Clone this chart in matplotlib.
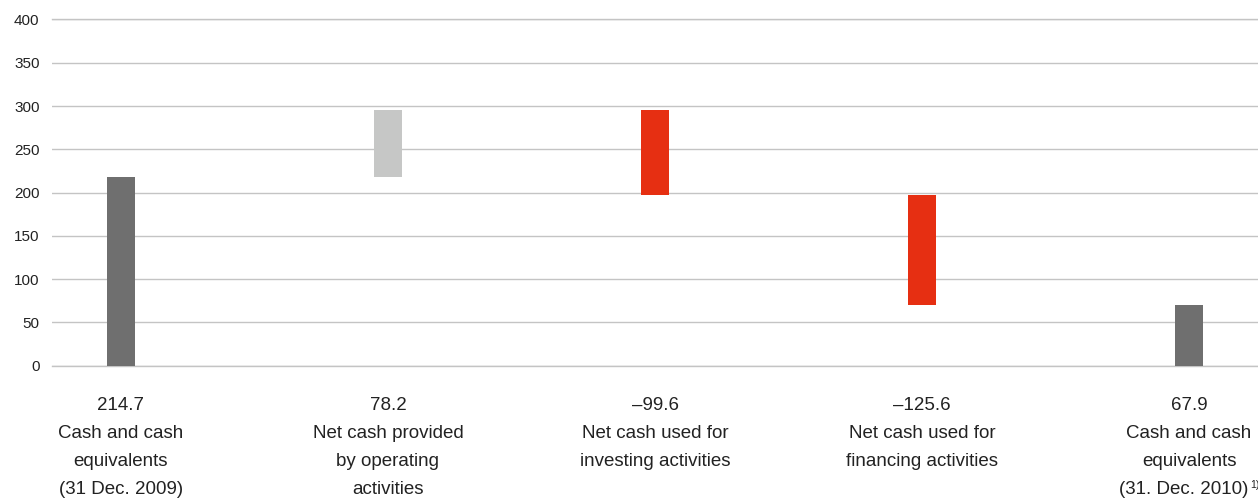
import matplotlib
matplotlib.use("Agg")
import matplotlib.pyplot as plt
from matplotlib.transforms import blended_transform_factory, offset_copy

# values printed under the bars
value_labels = ["214.7", "78.2", "\u201399.6", "\u2013125.6", "67.9"]
categories = [
    "Cash and cash\nequivalents\n(31 Dec. 2009)",
    "Net cash provided\nby operating\nactivities",
    "Net cash used for\ninvesting activities",
    "Net cash used for\nfinancing activities",
    "Cash and cash\nequivalents\n(31. Dec. 2010)",
]
footnotes = ["", "", "", "", "1)"]
# bar extents as drawn in the chart (bottom, top)
bar_bottom = [0, 218, 197, 70, 0]
bar_top = [218, 296, 296, 197, 70]
bar_colors = ["#6f6f6f", "#c6c7c6", "#e62f12", "#e62f12", "#6f6f6f"]
y_ticks = [0, 50, 100, 150, 200, 250, 300, 350, 400]

plt.rcParams["font.family"] = ["Liberation Sans", "DejaVu Sans"]

W, H = 1258, 500
fig = plt.figure(figsize=(W / 100, H / 100), dpi=100)
ax = fig.add_axes([52 / W, 1 - 365.7 / H, 1 - 52 / W, (365.7 - 19.5) / H])

x = list(range(len(categories)))
heights = [t - b for t, b in zip(bar_top, bar_bottom)]
ax.bar(x, heights, bottom=bar_bottom, width=0.105, color=bar_colors, zorder=3)

ax.set_xlim(-0.258, 4.258)
ax.set_ylim(0, 400)
ax.set_yticks(y_ticks)
ax.tick_params(axis="y", length=0, pad=9, labelsize=11, labelcolor="#222222")
ax.set_xticks([])

ax.grid(axis="y", color="#c4c4c4", linewidth=1.0, zorder=0)
ax.set_axisbelow(True)
for side in ["left", "right"]:
    ax.spines[side].set_visible(False)
for side in ["top", "bottom"]:
    ax.spines[side].set_color("#c4c4c4")
    ax.spines[side].set_linewidth(1.0)

# labels under the bars, one text per line (baselines in pixels from top)
trans = blended_transform_factory(ax.transData, fig.transFigure)
baselines = [410, 438, 466, 494]
for xi, val, cat, fn in zip(x, value_labels, categories, footnotes):
    lines = [val] + cat.split("\n")
    for i, line in enumerate(lines):
        tr = trans
        if fn and i == len(lines) - 1:
            tr = offset_copy(trans, fig=fig, x=-5, y=0, units="dots")
        t = ax.text(xi, 1 - baselines[i] / H, line, transform=tr,
                    ha="center", va="baseline", fontsize=13.5, color="#222222")
        if fn and i == len(lines) - 1:
            ax.annotate(fn, xy=(1, 0), xycoords=t, xytext=(1, 7.5),
                        textcoords="offset points", fontsize=7.5,
                        ha="left", va="baseline", color="#222222")

fig.savefig("out.png", dpi=100)
